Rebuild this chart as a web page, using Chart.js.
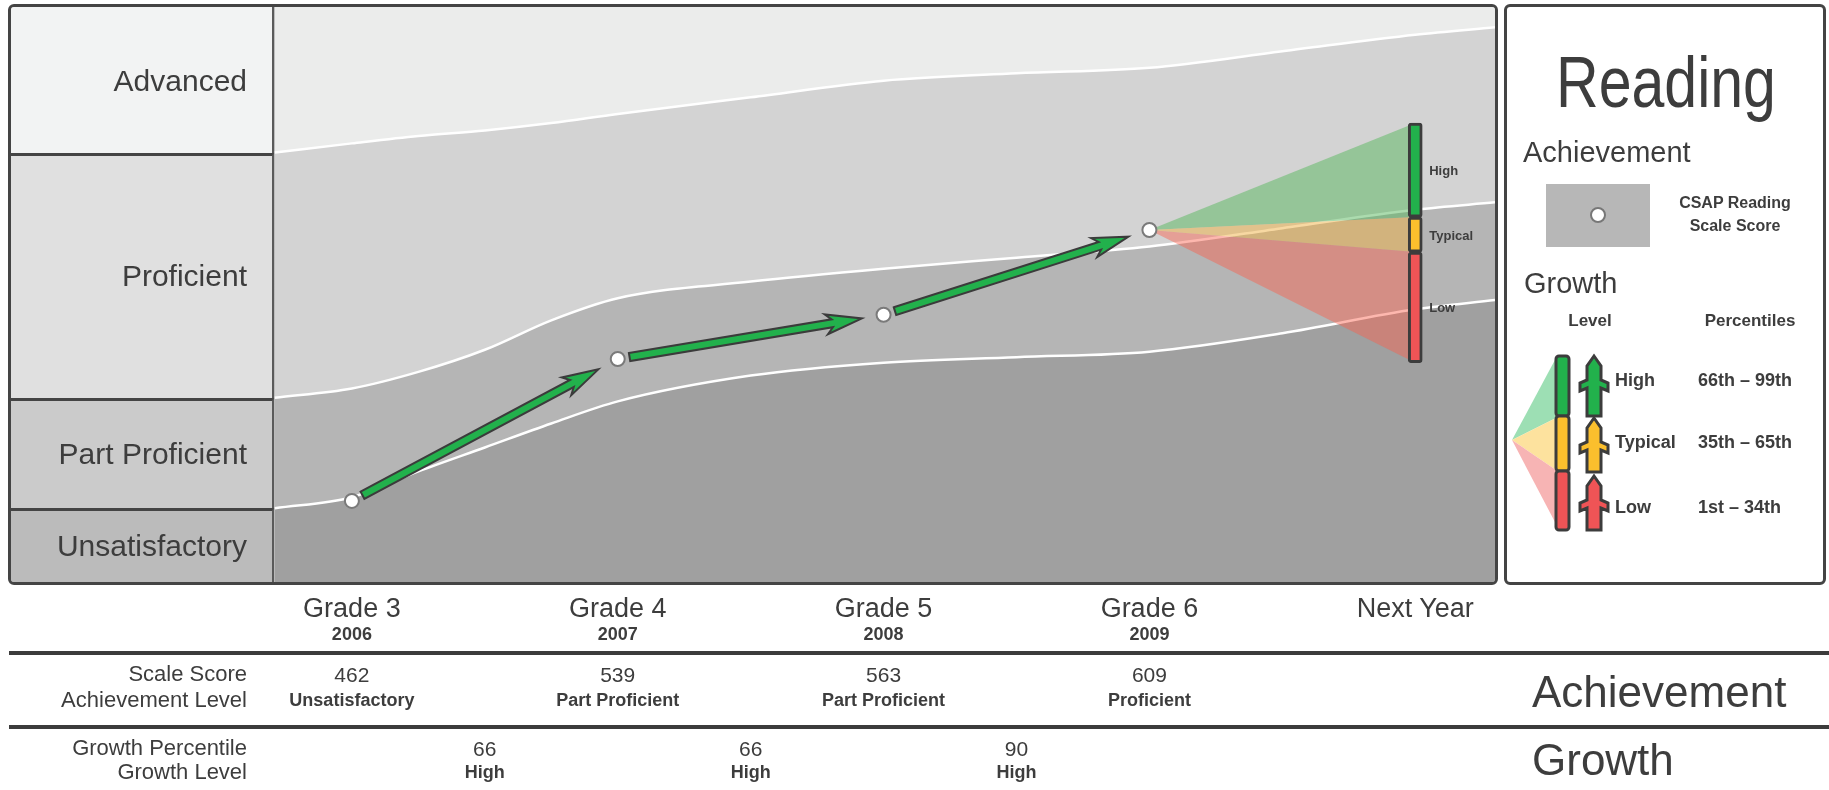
<!DOCTYPE html>
<html>
<head>
<meta charset="utf-8">
<script src="https://cdn.jsdelivr.net/npm/chart.js@4.4.0/dist/chart.umd.min.js"></script>
<style>
body{margin:0;width:1829px;height:790px;background:#fff;position:relative;overflow:hidden;
  font-family:'Liberation Sans',Arial,sans-serif;color:#3d3d3d}
.t{position:absolute;white-space:nowrap;line-height:1}
#frame{position:absolute;left:8px;top:4px;width:1484px;height:575px;border:3px solid #444;border-radius:6px;overflow:hidden;background:#bbb}
#plot{position:absolute;left:263px;top:0;width:1221px;height:575px}
.cell{position:absolute;left:0;width:261px;border-right:2px solid #5a5a5a}
#legend{position:absolute;left:1504px;top:4px;width:316px;height:575px;border:3px solid #444;border-radius:6px}
.rule{position:absolute;left:9px;width:1820px;height:4px;background:#3c3c3c}
#deco{position:absolute;left:0;top:0;width:1829px;height:790px;pointer-events:none}
</style>
</head>
<body>
<div id="frame"><div id="plot"><canvas id="myChart"></canvas></div></div>
<div id="legend"></div>
<div class="rule" style="top:651px"></div>
<div class="rule" style="top:725px"></div>
<svg id="deco" xmlns="http://www.w3.org/2000/svg"></svg>
<script>
// x = grade index (0 = Grade 3 ... 4 = next year)
var grades = ['Grade 3', 'Grade 4', 'Grade 5', 'Grade 6', 'Next Year'];
var years = ['2006', '2007', '2008', '2009', ''];
var scaleScores = [462, 539, 563, 609];
var achievementLevels = ['Unsatisfactory', 'Part Proficient', 'Part Proficient', 'Proficient'];
var growthPercentiles = [66, 66, 90];
var growthLevels = ['High', 'High', 'High'];

var levelNames = ['Advanced', 'Proficient', 'Part Proficient', 'Unsatisfactory'];
var levelColors = ['#f2f3f3', '#e0e0e0', '#cbcbcb', '#bbbbbb'];
var bandColors = ['#ebeceb', '#d3d3d3', '#b5b5b5', '#a0a0a0'];

// cut score curves
var cutX = [-0.29, 0, 0.25, 0.5, 0.75, 1, 1.5, 2, 2.5, 3, 3.5, 4, 4.3];
var advancedCut = [651, 656, 660, 663, 667, 672, 681, 690, 694, 697, 706, 715, 719];
var proficientCut = [518, 523, 532, 544, 560, 572, 581, 588, 594, 600, 610, 620, 624];
var partProfCut = [458, 464, 478, 491, 504, 516, 530, 537, 540, 543, 553, 566, 571];

// next year growth projection: score limits Low | Typical | High
var growthBands = ['Low', 'Typical', 'High'];
var nextYearCuts = [537, 597, 616, 667];
var growthColors = ['#ef5456', '#fbbf2d', '#22b14c'];
var coneColors = ['rgba(250,95,75,0.45)', 'rgba(240,178,70,0.5)', 'rgba(87,183,93,0.5)'];

var legendLevels = ['High', 'Typical', 'Low'];
var legendRanges = ['66th \u2013 99th', '35th \u2013 65th', '1st \u2013 34th'];

function curve(vals) {
    return cutX.map(function (x, i) { return {x: x, y: vals[i]}; });
}

function bandLine(vals, fill, color, border) {
    return {
        type: 'line', data: curve(vals), fill: fill, backgroundColor: color,
        borderColor: '#ffffff', borderWidth: border, pointRadius: 0,
        cubicInterpolationMode: 'monotone', order: 10
    };
}

var datasets = [
    bandLine(advancedCut, 'end', bandColors[0], 2.5),
    bandLine(proficientCut, '-1', bandColors[1], 2.5),
    bandLine(partProfCut, '-1', bandColors[2], 2.5),
    bandLine(partProfCut, 'start', bandColors[3], 0)
];

// growth cone: straight lines from last score to each projected limit
nextYearCuts.forEach(function (v, k) {
    datasets.push({
        type: 'line',
        data: [{x: scaleScores.length - 1, y: scaleScores[scaleScores.length - 1]}, {x: 4, y: v}],
        fill: k === 0 ? false : '-1',
        backgroundColor: k === 0 ? 'transparent' : coneColors[k - 1],
        borderWidth: 0, pointRadius: 0, order: 5
    });
});

datasets.push({
    type: 'bar',
    data: growthBands.map(function (b, k) { return {x: 4, y: [nextYearCuts[k], nextYearCuts[k + 1]]}; }),
    backgroundColor: growthColors,
    borderColor: '#3c3c3c', borderWidth: 3, borderSkipped: false, borderRadius: 3,
    barThickness: 14, grouped: false, order: 3
});

var pointsIndex = datasets.length;
datasets.push({
    type: 'line',
    data: scaleScores.map(function (s, i) { return {x: i, y: s}; }),
    showLine: false, pointRadius: 7, pointBackgroundColor: '#ffffff',
    pointBorderColor: '#7a7a7a', pointBorderWidth: 2, order: 1
});

// green arrows between the yearly scores
var arrows = {
    id: 'arrows',
    afterDatasetsDraw: function (chart) {
        var pts = chart.getDatasetMeta(pointsIndex).data;
        var ctx = chart.ctx;
        for (var i = 0; i < pts.length - 1; i++) {
            var a = pts[i], b = pts[i + 1];
            var dx = b.x - a.x, dy = b.y - a.y;
            var len = Math.sqrt(dx * dx + dy * dy);
            var L = len - 12 - 22;
            ctx.save();
            ctx.translate(a.x, a.y);
            ctx.rotate(Math.atan2(dy, dx));
            ctx.translate(12, 0);
            ctx.beginPath();
            ctx.moveTo(0, -4);
            ctx.lineTo(L - 30, -4);
            ctx.lineTo(L - 36, -10);
            ctx.lineTo(L, 0);
            ctx.lineTo(L - 36, 10);
            ctx.lineTo(L - 30, 4);
            ctx.lineTo(0, 4);
            ctx.closePath();
            ctx.fillStyle = '#22b14c';
            ctx.fill();
            ctx.lineWidth = 2;
            ctx.strokeStyle = '#3b3b3b';
            ctx.stroke();
            ctx.restore();
        }
    }
};

var ctx = document.getElementById('myChart').getContext('2d');
var myChart = new Chart(ctx, {
    type: 'line',
    data: {datasets: datasets},
    options: {
        responsive: true,
        maintainAspectRatio: false,
        animation: false,
        layout: {padding: 0, autoPadding: false},
        scales: {
            x: {type: 'linear', min: -0.293, max: 4.3, display: false, offset: false},
            y: {type: 'linear', min: 418, max: 730, display: false}
        },
        plugins: {legend: {display: false}, tooltip: {enabled: false}}
    },
    plugins: [arrows]
});

// text and legend, placed from the chart scales
var xs = myChart.scales.x, ys = myChart.scales.y;
var box = document.getElementById('myChart').getBoundingClientRect();
function px(v) { return box.left + xs.getPixelForValue(v); }
function py(v) { return box.top + ys.getPixelForValue(v); }

function text(str, x, y, size, align, extra) {
    var d = document.createElement('div');
    d.className = 't';
    d.textContent = str;
    var tx = align === 'right' ? '-100%' : (align === 'left' ? '0' : '-50%');
    d.style.cssText = 'left:' + x + 'px;top:' + y + 'px;font-size:' + size + 'px;transform:translate(' + tx + ',-50%)' + (extra ? ' ' + (extra.tf || '') : '') + ';' + (extra && extra.css ? extra.css : '');
    document.body.appendChild(d);
    return d;
}

// level column on the left
var frame = document.getElementById('frame');
var frameTop = frame.getBoundingClientRect().top + 3;
var edges = [frameTop, py(advancedCut[0]), py(proficientCut[0]), py(partProfCut[0]), frameTop + 575];
levelNames.forEach(function (name, i) {
    var c = document.createElement('div');
    c.className = 'cell';
    c.style.top = (edges[i] - frameTop) + 'px';
    c.style.height = (edges[i + 1] - edges[i]) + 'px';
    c.style.background = levelColors[i];
    if (i > 0) c.style.borderTop = '3px solid #444';
    frame.appendChild(c);
    text(name, 247, (edges[i] + edges[i + 1]) / 2 + 1, 30, 'right');
});

// axis labels and table
grades.forEach(function (g, i) {
    text(g, px(i), 608, 27, 'center');
    if (years[i]) text(years[i], px(i), 634, 18, 'center', {css: 'font-weight:bold'});
});
text('Scale Score', 247, 674, 22, 'right');
text('Achievement Level', 247, 700, 22, 'right');
text('Growth Percentile', 247, 748, 22, 'right');
text('Growth Level', 247, 772, 22, 'right');
scaleScores.forEach(function (s, i) {
    text(String(s), px(i), 674, 21, 'center');
    text(achievementLevels[i], px(i), 700, 18, 'center', {css: 'font-weight:bold'});
});
growthPercentiles.forEach(function (g, i) {
    text(String(g), px(i + 0.5), 748, 21, 'center');
    text(growthLevels[i], px(i + 0.5), 772, 18, 'center', {css: 'font-weight:bold'});
});
text('Achievement', 1532, 692, 44, 'left');
text('Growth', 1532, 760, 44, 'left');

// labels beside the projection bar
growthBands.forEach(function (b, k) {
    text(b, px(4) + 14, py((nextYearCuts[k] + nextYearCuts[k + 1]) / 2), 13, 'left', {css: 'font-weight:bold'});
});

// legend panel
text('Reading', 1666, 82, 72, 'center', {tf: 'scaleX(0.82)'});
text('Achievement', 1523, 152, 29, 'left');
text('CSAP Reading', 1735, 203, 16, 'center', {css: 'font-weight:bold'});
text('Scale Score', 1735, 226, 16, 'center', {css: 'font-weight:bold'});
text('Growth', 1524, 283, 29, 'left');
text('Level', 1590, 320, 17, 'center', {css: 'font-weight:bold'});
text('Percentiles', 1750, 320, 17, 'center', {css: 'font-weight:bold'});
var legendY = [380, 442, 507];
legendLevels.forEach(function (l, k) {
    text(l, 1615, legendY[k], 18, 'left', {css: 'font-weight:bold'});
    text(legendRanges[k], 1698, legendY[k], 18, 'left', {css: 'font-weight:bold'});
});

var svg = document.getElementById('deco');
function el(tag, attrs) {
    var e = document.createElementNS('http://www.w3.org/2000/svg', tag);
    for (var k in attrs) e.setAttribute(k, attrs[k]);
    svg.appendChild(e);
    return e;
}
el('rect', {x: 1546, y: 184, width: 104, height: 63, fill: '#b7b7b7'});
el('circle', {cx: 1598, cy: 215, r: 7, fill: '#fff', stroke: '#777', 'stroke-width': 2});
el('polygon', {points: '1512,440 1556,358 1556,418', fill: '#9ddfb4'});
el('polygon', {points: '1512,440 1556,418 1556,470', fill: '#fde29e'});
el('polygon', {points: '1512,440 1556,470 1556,524', fill: '#f7b4b4'});
var segs = [[356, 416, '#22b14c'], [416, 471, '#fbbf2d'], [471, 530, '#ef5456']];
segs.forEach(function (s) {
    el('rect', {x: 1556, y: s[0], width: 13, height: s[1] - s[0], rx: 3, fill: s[2], stroke: '#3c3c3c', 'stroke-width': 3});
});
function upArrow(cx, top, bottom, color) {
    var p = [[cx, top], [cx + 7, top + 10], [cx + 7, top + 24], [cx + 14, top + 27], [cx + 14, top + 35],
        [cx + 7, top + 32], [cx + 7, bottom], [cx - 7, bottom], [cx - 7, top + 32], [cx - 14, top + 35],
        [cx - 14, top + 27], [cx - 7, top + 24], [cx - 7, top + 10]];
    el('polygon', {points: p.map(function (q) { return q.join(','); }).join(' '), fill: color, stroke: '#3c3c3c', 'stroke-width': 3, 'stroke-linejoin': 'miter'});
}
upArrow(1594, 356, 416, '#22b14c');
upArrow(1594, 418, 472, '#fbbf2d');
upArrow(1594, 476, 530, '#ef5456');
</script>
</body>
</html>
